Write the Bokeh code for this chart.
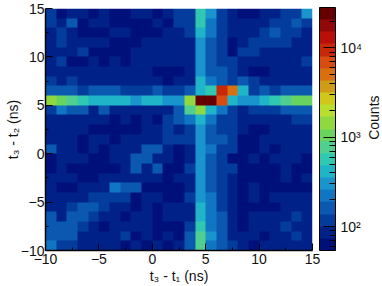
import math
import numpy as np
from bokeh.plotting import figure
from bokeh.layouts import row
from bokeh.models import LogColorMapper, ColorBar, LogTicker, FixedTicker
from bokeh.core.properties import value
from bokeh.embed import file_html
from bokeh.resources import INLINE

# rows listed from the top (t3-t2 = 14.5) to the bottom (t3-t2 = -9.5)
counts = [
 [120,64,88,88,64,88,64,64,88,88,64,88,120,120,570,305,120,88,64,64,88,88,120,120,305],
 [120,88,165,64,88,88,64,64,64,64,88,64,120,120,570,225,120,88,88,88,88,120,120,165,120],
 [88,120,88,64,64,64,88,88,64,64,64,88,88,120,415,225,120,88,88,88,120,165,120,120,88],
 [88,120,88,88,88,88,64,64,64,88,88,88,88,88,305,165,120,64,88,120,120,120,120,88,88],
 [88,88,88,120,64,64,64,64,88,88,88,88,88,88,305,165,120,64,120,120,88,88,88,88,88],
 [88,120,64,64,88,64,88,64,88,88,88,88,88,88,305,165,120,120,88,88,88,88,88,88,120],
 [88,88,88,88,88,88,88,88,88,88,64,64,64,88,305,165,165,120,88,64,64,88,88,88,88],
 [120,88,120,88,88,88,88,88,88,88,88,64,88,88,415,225,165,120,165,120,88,88,88,88,88],
 [165,165,165,120,165,165,165,120,120,120,165,120,120,165,415,570,9500,5100,415,120,165,120,165,165,165],
 [1450,1060,780,570,415,415,415,415,305,415,415,305,305,1450,24400,24400,7000,415,305,305,415,570,780,1060,1060],
 [120,225,165,165,88,165,88,88,88,88,88,88,165,780,1450,415,225,120,88,120,120,120,165,165,165],
 [88,88,88,88,88,88,64,88,64,88,64,120,165,225,415,225,120,120,88,88,88,88,88,120,120],
 [88,88,88,88,64,64,64,64,64,88,88,120,88,120,305,165,120,120,88,64,64,88,88,88,88],
 [88,88,88,64,88,88,64,88,88,88,88,120,120,120,305,165,165,120,64,64,88,88,88,88,88],
 [165,88,88,64,88,64,88,88,88,165,165,88,64,88,305,225,120,120,64,64,88,64,88,88,88],
 [64,88,88,88,64,64,88,88,165,165,88,88,64,88,305,165,120,64,64,88,64,88,88,88,64],
 [64,88,64,64,64,64,64,88,165,88,165,64,64,120,305,165,120,120,64,64,64,64,88,64,64],
 [88,88,88,64,64,88,88,88,88,88,88,64,88,88,305,165,120,88,64,64,64,64,88,64,88],
 [88,64,64,88,88,88,225,165,165,64,64,64,64,88,305,165,120,88,64,88,64,64,64,64,64],
 [88,88,88,88,120,120,120,120,64,88,88,64,64,120,305,225,120,88,64,88,64,88,88,88,88],
 [88,88,120,165,165,120,88,88,64,88,64,88,88,88,415,225,120,88,64,64,64,64,88,88,88],
 [165,88,165,165,120,88,88,64,88,88,64,88,88,88,415,225,165,88,64,88,88,88,88,120,88],
 [165,165,165,120,88,64,88,88,88,88,64,64,64,120,570,225,165,88,64,88,88,88,120,88,88],
 [165,165,165,88,88,88,88,120,64,88,64,88,64,165,780,305,165,88,88,88,64,88,88,120,88],
 [225,120,120,88,88,88,88,64,88,64,88,64,88,165,780,225,165,120,88,64,88,88,88,88,88],
]
palette = ["#00107a","#002288","#033c9c","#0a58b0","#1076c4","#1a94cc","#20b4c8","#30c8b0",
           "#50d090","#68d460","#90d840","#b8de30","#d0c818","#d09c18","#d87010","#d84c10",
           "#c82808","#b81008","#900808","#660000"]
x_ticks = [-10, -5, 0, 5, 10, 15]
y_ticks = [-10, -5, 0, 5, 10, 15]
x_range = (-10, 15)
y_range = (-10, 15)
z_low, z_high = 54, 28400
cb_ticks = {100: "10²", 1000: "10³", 10000: "10⁴"}
FONT = "Liberation Sans"

p = figure(width=365, height=286, x_range=x_range, y_range=y_range,
           output_backend="svg", toolbar_location=None,
           min_border_left=45, min_border_top=8, min_border_right=52, min_border_bottom=35,
           outline_line_color=None, background_fill_color="white")
p.grid.visible = False

mapper = LogColorMapper(palette=palette, low=z_low, high=z_high)
img = np.array(counts[::-1], dtype=float)
p.image(image=[img], x=x_range[0], y=y_range[0], dw=x_range[1]-x_range[0],
        dh=y_range[1]-y_range[0], color_mapper=mapper)

def label(t):
    return str(t).replace("-", "−")

for ax, ticks, name in ((p.xaxis[0], x_ticks, "t₃ - t₁ (ns)"), (p.yaxis[0], y_ticks, "t₃ - t₂ (ns)")):
    ax.ticker = FixedTicker(ticks=ticks, minor_ticks=[t + 2.5 for t in ticks[:-1]])
    ax.major_label_overrides = {t: label(t) for t in ticks}
    ax.major_tick_in = 7
    ax.major_tick_out = 0
    ax.minor_tick_in = 3
    ax.minor_tick_out = 0
    ax.axis_line_color = "black"
    ax.axis_line_width = 1.5
    ax.major_tick_line_width = 1
    ax.minor_tick_line_width = 1
    ax.major_label_text_font = FONT
    ax.major_label_text_font_size = "14px"
    ax.major_label_text_color = "#111111"
    ax.major_label_standoff = 3
    ax.axis_label = name
    ax.axis_label_text_font = FONT
    ax.axis_label_text_font_style = "normal"
    ax.axis_label_text_font_size = "14px"
    ax.axis_label_text_color = "#111111"
    ax.axis_label_standoff = 1

p.yaxis[0].axis_label_standoff = -3
p.yaxis[0].major_label_standoff = 1

cb = ColorBar(color_mapper=mapper, ticker=LogTicker(num_minor_ticks=10),
              major_label_overrides=cb_ticks, width=16, height=243,
              location=(7, 0), padding=0, margin=0, label_standoff=5,
              major_label_text_font=FONT, major_label_text_font_size="14px",
              major_label_text_color="#111111",
              major_tick_in=12, major_tick_out=0, major_tick_line_color="black",
              minor_tick_in=6, minor_tick_out=0, minor_tick_line_color="black",
              bar_line_color="black", border_line_color=None, background_fill_color=None)
p.add_layout(cb, "right")

# narrow side panel that only carries the colour bar's rotated title
side = figure(width=17, height=286, x_range=(0, 1), y_range=(0, 286),
              output_backend="svg", toolbar_location=None,
              x_axis_type=None, y_axis_type=None, outline_line_color=None,
              min_border_left=0, min_border_right=0, min_border_top=0, min_border_bottom=0)
side.grid.visible = False
side.text(x=[0.5], y=[157], text=["Counts"], angle=math.pi/2,
          text_align="center", text_baseline="middle",
          text_font=value(FONT), text_font_size="14px", text_color="#111111")

open("out.html", "w").write(file_html(row(p, side), INLINE))
